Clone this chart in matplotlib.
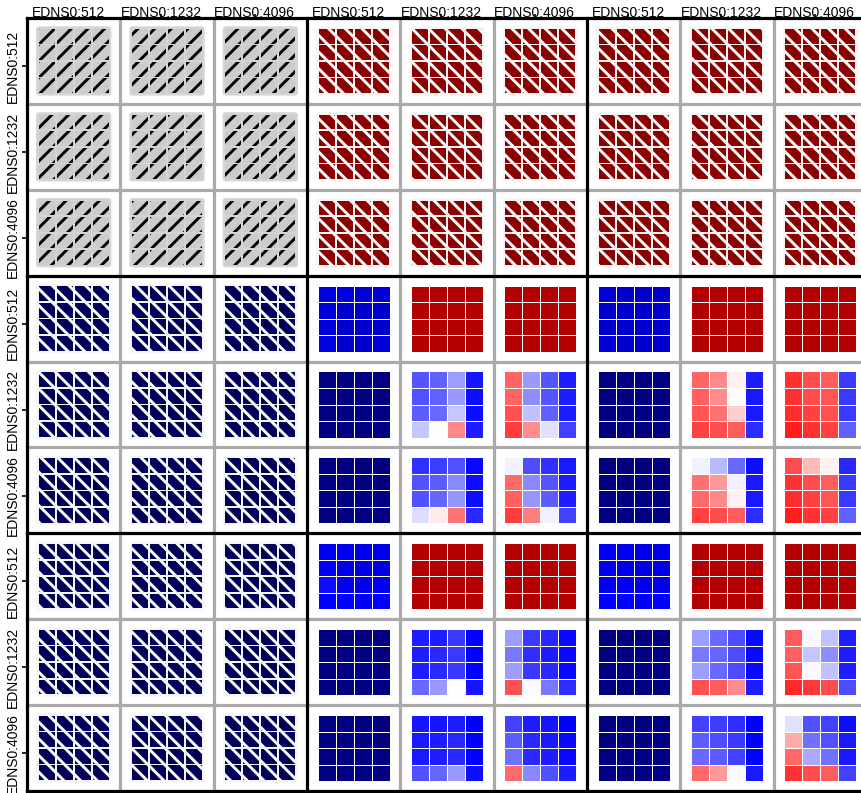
import numpy as np
import matplotlib
matplotlib.use("Agg")
import matplotlib.pyplot as plt
from matplotlib.colors import LinearSegmentedColormap, Normalize
from matplotlib.patches import Rectangle, FancyBboxPatch

plt.rcParams['font.family'] = ['Liberation Sans', 'DejaVu Sans']
plt.rcParams['hatch.linewidth'] = 2.1

sizes = ["EDNS0:512", "EDNS0:1232", "EDNS0:4096"]
col_labels = sizes * 3
row_labels = sizes * 3

# uniform panels
navy_cells = [[-1.0, -1.0, -1.0, -1.0]] * 4
darkred_cells = [[1.0, 1.0, 1.0, 1.0]] * 4

# blue gradient panels (EDNS0:512 rows)
r4c4 = [[-0.62, -0.64, -0.67, -0.67],
        [-0.64, -0.70, -0.70, -0.70],
        [-0.64, -0.70, -0.70, -0.70],
        [-0.62, -0.69, -0.69, -0.67]]
r4c7 = [[-0.67, -0.69, -0.69, -0.69],
        [-0.70, -0.70, -0.70, -0.70],
        [-0.70, -0.70, -0.70, -0.70],
        [-0.67, -0.69, -0.69, -0.69]]
r7c4 = [[-0.55, -0.57, -0.59, -0.59],
        [-0.55, -0.59, -0.62, -0.62],
        [-0.47, -0.55, -0.59, -0.55],
        [-0.50, -0.50, -0.52, -0.50]]
r7c7 = [[-0.55, -0.57, -0.59, -0.59],
        [-0.57, -0.59, -0.62, -0.60],
        [-0.52, -0.55, -0.59, -0.57],
        [-0.50, -0.50, -0.52, -0.50]]

# mixed panels
r5c5 = [[-0.33, -0.31, -0.19, -0.46],
        [-0.34, -0.31, -0.20, -0.47],
        [-0.32, -0.29, -0.11, -0.47],
        [-0.11, 0.00, 0.23, -0.44]]
r5c6 = [[0.30, -0.20, -0.33, -0.44],
        [0.30, -0.22, -0.33, -0.44],
        [0.34, -0.12, -0.31, -0.44],
        [0.38, 0.22, -0.06, -0.37]]
r6c5 = [[-0.40, -0.38, -0.34, -0.48],
        [-0.34, -0.32, -0.23, -0.47],
        [-0.34, -0.30, -0.21, -0.47],
        [-0.07, 0.04, 0.27, -0.42]]
r6c6 = [[-0.03, -0.35, -0.40, -0.45],
        [0.29, -0.23, -0.33, -0.44],
        [0.31, -0.21, -0.32, -0.44],
        [0.38, 0.25, -0.03, -0.37]]
r5c8 = [[0.30, 0.23, 0.03, -0.44],
        [0.31, 0.22, 0.01, -0.45],
        [0.33, 0.28, 0.10, -0.45],
        [0.37, 0.35, 0.32, -0.41]]
r5c9 = [[0.40, 0.35, 0.32, -0.39],
        [0.40, 0.35, 0.33, -0.39],
        [0.41, 0.37, 0.34, -0.39],
        [0.44, 0.40, 0.37, -0.31]]
r6c8 = [[-0.03, -0.14, -0.29, -0.47],
        [0.28, 0.20, -0.03, -0.45],
        [0.29, 0.23, 0.03, -0.45],
        [0.37, 0.35, 0.32, -0.41]]
r6c9 = [[0.35, 0.14, 0.03, -0.42],
        [0.40, 0.35, 0.32, -0.39],
        [0.41, 0.37, 0.33, -0.39],
        [0.44, 0.40, 0.37, -0.31]]
r8c5 = [[-0.44, -0.44, -0.39, -0.50],
        [-0.44, -0.42, -0.39, -0.50],
        [-0.44, -0.42, -0.39, -0.50],
        [-0.29, -0.20, 0.00, -0.46]]
r8c6 = [[-0.19, -0.39, -0.42, -0.48],
        [-0.26, -0.41, -0.44, -0.48],
        [-0.19, -0.39, -0.42, -0.48],
        [0.34, -0.01, -0.26, -0.41]]
r9c5 = [[-0.46, -0.46, -0.44, -0.50],
        [-0.45, -0.44, -0.42, -0.50],
        [-0.45, -0.44, -0.42, -0.50],
        [-0.34, -0.30, -0.20, -0.47]]
r9c6 = [[-0.37, -0.44, -0.46, -0.50],
        [-0.32, -0.42, -0.45, -0.48],
        [-0.28, -0.42, -0.44, -0.48],
        [0.29, -0.23, -0.34, -0.44]]
r8c8 = [[-0.19, -0.29, -0.35, -0.48],
        [-0.26, -0.30, -0.35, -0.48],
        [-0.19, -0.29, -0.35, -0.48],
        [0.34, 0.32, 0.22, -0.44]]
r8c9 = [[0.32, -0.01, -0.12, -0.44],
        [0.31, -0.11, -0.22, -0.44],
        [0.33, -0.01, -0.12, -0.44],
        [0.42, 0.39, 0.35, -0.35]]
r9c8 = [[-0.37, -0.38, -0.41, -0.50],
        [-0.32, -0.35, -0.39, -0.50],
        [-0.29, -0.32, -0.37, -0.50],
        [0.29, 0.20, -0.01, -0.45]]
r9c9 = [[-0.06, -0.34, -0.37, -0.47],
        [0.17, -0.28, -0.34, -0.45],
        [0.29, -0.17, -0.28, -0.45],
        [0.40, 0.35, 0.32, -0.37]]

# grid position (1-based row, col) -> values
heat = {
    (4, 4): r4c4, (4, 5): darkred_cells, (4, 6): darkred_cells,
    (4, 7): r4c7, (4, 8): darkred_cells, (4, 9): darkred_cells,
    (5, 4): navy_cells, (5, 5): r5c5, (5, 6): r5c6,
    (5, 7): navy_cells, (5, 8): r5c8, (5, 9): r5c9,
    (6, 4): navy_cells, (6, 5): r6c5, (6, 6): r6c6,
    (6, 7): navy_cells, (6, 8): r6c8, (6, 9): r6c9,
    (7, 4): r7c4, (7, 5): darkred_cells, (7, 6): darkred_cells,
    (7, 7): r7c7, (7, 8): darkred_cells, (7, 9): darkred_cells,
    (8, 4): navy_cells, (8, 5): r8c5, (8, 6): r8c6,
    (8, 7): navy_cells, (8, 8): r8c8, (8, 9): r8c9,
    (9, 4): navy_cells, (9, 5): r9c5, (9, 6): r9c6,
    (9, 7): navy_cells, (9, 8): r9c8, (9, 9): r9c9,
}

cmap = LinearSegmentedColormap.from_list(
    "div", [(0.0, "#000080"), (0.25, "#0000ff"), (0.5, "#ffffff"),
            (0.75, "#ff0000"), (1.0, "#b30000")])
norm = Normalize(vmin=-1, vmax=1)

margin = 0.115
span = 1 - 2 * margin
gap = 0.02


def draw_heat(ax, r, c, vals):
    xe = np.linspace(c + margin, c + margin + span, 5)
    ye = np.linspace(r + margin, r + margin + span, 5)
    ax.pcolormesh(xe, ye, np.array(vals), cmap=cmap, norm=norm,
                  edgecolors="white", linewidth=0.7, zorder=2)


def draw_hatched(ax, r, c, face, hcolor, hatch, bg):
    ax.add_patch(FancyBboxPatch((c + margin, r + margin), span, span,
                                boxstyle="round,pad=0.018,rounding_size=0.035",
                                fc=bg, ec="none", zorder=1))
    step = span / 4
    for i in range(4):
        for j in range(4):
            ax.add_patch(Rectangle((c + margin + j * step + gap / 2,
                                    r + margin + i * step + gap / 2),
                                   step - gap, step - gap, fc=face, ec=hcolor,
                                   lw=0, hatch=hatch, zorder=2))


fig = plt.figure(figsize=(8.62, 7.93), dpi=100)
ax = fig.add_axes([27 / 862, 1 - 791 / 793, (867 - 27) / 862, (791 - 18) / 793])
ax.set_xlim(0, 9)
ax.set_ylim(9, 0)
for s in ax.spines.values():
    s.set_visible(False)

for r in range(9):
    for c in range(9):
        if r < 3 and c < 3:
            draw_hatched(ax, r, c, "#cccccc", "black", "//", "#d4d4d4")
        elif r < 3:
            draw_hatched(ax, r, c, "#8b0000", "white", "\\\\", "#f6f6f6")
        elif c < 3:
            draw_hatched(ax, r, c, "#00005a", "white", "\\\\", "#f6f6f6")
        else:
            draw_heat(ax, r, c, heat[(r + 1, c + 1)])

for k in range(10):
    if k % 3 == 0:
        ax.axvline(k, color="black", lw=2.3, zorder=6, clip_on=False)
        ax.axhline(k, color="black", lw=2.3, zorder=6, clip_on=False)
    else:
        ax.axvline(k, color="#aaaaaa", lw=2.3, zorder=5, clip_on=False)
        ax.axhline(k, color="#aaaaaa", lw=2.3, zorder=5, clip_on=False)

ax.set_xticks(np.arange(9) + 0.5 - 0.06)
ax.set_xticklabels(col_labels, fontsize=10)
ax.set_yticks(np.arange(9) + 0.5 + 0.06)
ax.set_yticklabels(row_labels, fontsize=10, rotation=90, va="center")
ax.xaxis.tick_top()
ax.tick_params(axis="x", length=3, width=1.2, pad=-4.4, top=True, bottom=False)
ax.tick_params(axis="y", length=3.6, width=1.2, pad=1.5)

fig.savefig("out.png", dpi=100)
